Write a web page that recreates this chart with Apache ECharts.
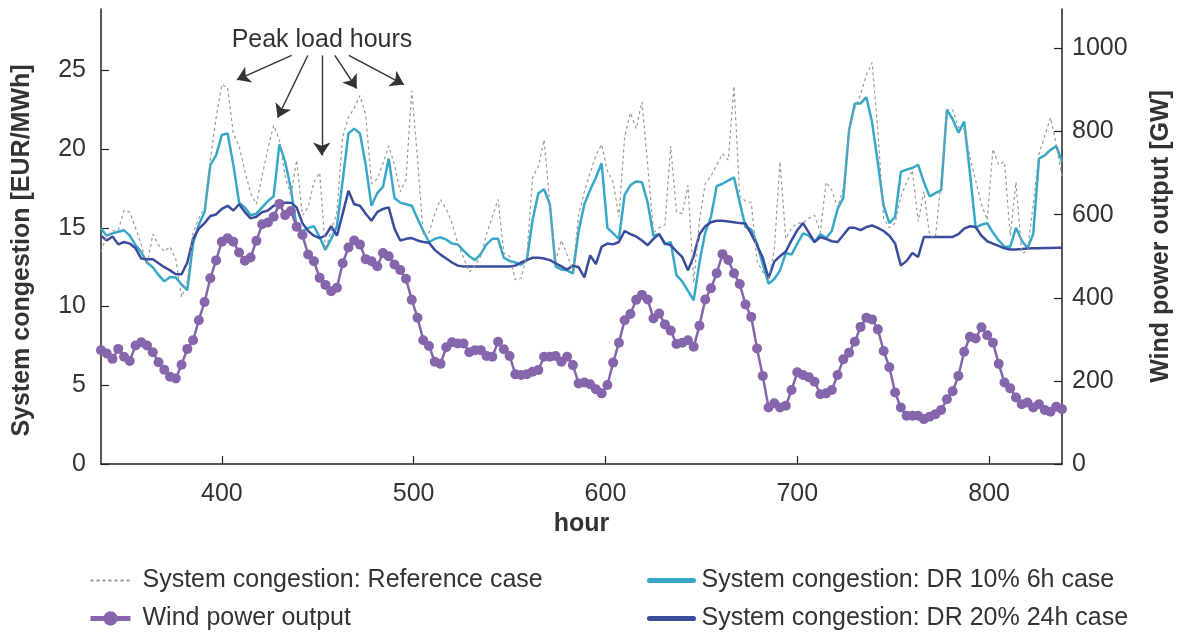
<!DOCTYPE html>
<html>
<head>
<meta charset="utf-8">
<script src="https://cdn.jsdelivr.net/npm/echarts@6.0.0/dist/echarts.min.js"></script>
<style>
  html, body { margin: 0; padding: 0; background: #fff; }
  #congestion-chart { width: 1182px; height: 634px; }
</style>
</head>
<body>
<div id="congestion-chart"></div>
<script>
const hours = [
  337, 340, 343, 346, 349, 352, 355, 358, 361, 364, 367, 370, 373, 376, 379, 382, 385, 388, 391, 394,
  397, 400, 403, 406, 409, 412, 415, 418, 421, 424, 427, 430, 433, 436, 439, 442, 445, 448, 451, 454,
  457, 460, 463, 466, 469, 472, 475, 478, 481, 484, 487, 490, 493, 496, 499, 502, 505, 508, 511, 514,
  517, 520, 523, 526, 529, 532, 535, 538, 541, 544, 547, 550, 553, 556, 559, 562, 565, 568, 571, 574,
  577, 580, 583, 586, 589, 592, 595, 598, 601, 604, 607, 610, 613, 616, 619, 622, 625, 628, 631, 634,
  637, 640, 643, 646, 649, 652, 655, 658, 661, 664, 667, 670, 673, 676, 679, 682, 685, 688, 691, 694,
  697, 700, 703, 706, 709, 712, 715, 718, 721, 724, 727, 730, 733, 736, 739, 742, 745, 748, 751, 754,
  757, 760, 763, 766, 769, 772, 775, 778, 781, 784, 787, 790, 793, 796, 799, 802, 805, 808, 811, 814,
  817, 820, 823, 826, 829, 832, 835, 838
]

// EUR/MWh
const refCongestion = [
  13.5, 14.5, 14.8, 14.85, 16.1, 16.0, 15.0, 13.9, 12.6, 14.6, 13.9, 13.5, 13.8, 13.0, 10.6, 11.6, 14.7, 15.6, 16.3, 19.3, 22.0,
  24.1, 23.9, 21.0, 20.2, 18.6, 17.2, 16.5, 18.3, 20.0, 21.5, 20.6, 18.3, 17.0, 19.3, 15.8, 16.3, 17.9, 18.5, 13.6, 14.8, 16.0,
  20.8, 22.0, 22.6, 23.4, 22.2, 17.8, 18.1, 19.1, 20.2, 19.0, 17.3, 18.1, 23.7, 19.4, 14.6, 14.7, 15.9, 16.8, 16.2, 15.3, 14.0,
  13.1, 12.2, 12.6, 13.2, 14.6, 15.7, 16.8, 13.4, 13.2, 11.7, 11.8, 13.2, 18.2, 18.9, 20.6, 16.5, 12.9, 14.2, 13.3, 12.3, 15.8, 17.3,
  18.5, 19.6, 20.3, 18.6, 17.9, 15.7, 20.8, 22.3, 21.3, 23.0, 19.0, 14.7, 15.0, 15.2, 20.2, 16.0, 15.9, 17.7, 11.5, 15.5, 17.8,
  18.3, 19.0, 19.7, 19.3, 24.0, 17.0, 16.7, 16.6, 12.9, 12.2, 11.7, 13.6, 19.2, 14.3, 15.0, 15.3, 15.3, 15.6, 15.8, 14.7, 17.9,
  17.4, 16.3, 17.5, 21.3, 22.6, 23.5, 24.7, 25.5, 21.2, 15.6, 15.0, 15.3, 17.0, 17.9, 18.65, 15.4, 17.3, 14.5, 14.4, 18.0, 22.5,
  22.5, 21.4, 21.3, 19.5, 18.0, 16.5, 15.5, 20.0, 19.0, 19.2, 14.5, 17.9, 13.4, 13.5, 16.5, 19.7, 20.8, 22.0, 20.3, 18.3
]

const dr10Congestion = [
  14.95, 14.5, 14.65, 14.75, 14.85, 14.5, 13.9, 13.45, 12.8, 12.5, 12.0, 11.6, 11.88, 11.85, 11.4, 11.05, 14.0, 15.2, 16.0, 19.0, 19.6,
  20.9, 21.0, 19.0, 16.6, 16.3, 15.8, 15.9, 16.3, 16.7, 17.0, 20.3, 19.2, 17.5, 15.0, 14.8, 15.0, 15.1, 14.4, 13.6, 14.3, 15.1,
  18.0, 21.0, 21.3, 21.0, 19.0, 16.4, 17.2, 17.6, 19.4, 16.9, 16.6, 16.5, 16.4, 15.6, 14.8, 14.1, 14.3, 14.4, 14.25, 14.0, 13.95,
  13.55, 13.2, 12.95, 13.35, 13.95, 14.3, 14.3, 13.1, 12.9, 12.8, 12.65, 12.95, 15.5, 17.2, 17.45, 16.5, 12.55, 12.35, 12.3, 12.1, 14.8, 16.5,
  17.4, 18.2, 19.1, 15.0, 14.65, 14.3, 17.1, 17.7, 17.95, 17.9, 16.6, 14.5, 14.6, 13.95, 14.1, 12.0, 11.6, 11.0, 10.4, 12.8, 14.7,
  15.7, 17.65, 17.8, 18.0, 18.2, 16.6, 15.06, 14.9, 14.0, 12.7, 11.45, 11.75, 12.3, 13.4, 13.3, 14.0, 14.65, 14.5, 14.1, 14.6, 14.35,
  14.8, 16.2, 16.9, 21.2, 22.9, 22.9, 23.3, 21.7, 19.1, 16.4, 15.3, 15.7, 18.55, 18.7, 18.8, 19.0, 17.9, 17.0, 17.2, 17.4, 22.5,
  21.9, 21.05, 21.75, 18.5, 15.0, 15.2, 15.3, 14.7, 14.2, 13.8, 13.8, 15.0, 14.2, 13.7, 14.6, 19.4, 19.6, 19.95, 20.2, 19.2
]

const dr20Congestion = [
  14.5, 14.2, 14.45, 13.95, 14.1, 14.0, 13.7, 13.05, 13.0, 13.0, 12.75, 12.5, 12.3, 12.05, 12.05, 12.8, 14.3, 14.95, 15.3, 15.75, 15.85,
  16.2, 16.4, 16.1, 16.5, 16.0, 15.6, 15.7, 16.0, 16.1, 16.4, 16.55, 16.6, 16.6, 16.3, 15.3, 14.8, 14.5, 14.35, 14.5, 15.1, 14.5,
  15.9, 17.35, 16.5, 16.4, 15.9, 15.45, 16.0, 16.2, 16.3, 14.95, 14.2, 14.3, 14.35, 14.2, 14.1, 14.05, 13.6, 13.3, 13.05, 12.8, 12.6,
  12.55, 12.55, 12.55, 12.55, 12.55, 12.55, 12.55, 12.55, 12.55, 12.6, 12.8, 12.95, 13.1, 13.1, 13.05, 12.95, 12.75, 12.55, 12.35, 12.6, 12.5, 11.85,
  13.25, 12.7, 13.8, 14.0, 13.95, 14.1, 14.8, 14.6, 14.45, 14.2, 13.9, 14.3, 14.6, 14.0, 13.9, 13.5, 13.15, 12.3, 13.2, 14.6, 15.1,
  15.35, 15.45, 15.45, 15.4, 15.35, 15.3, 15.27, 14.6, 13.9, 13.1, 11.8, 12.85, 13.2, 13.5, 14.2, 14.85, 15.3, 14.7, 14.1, 14.4, 14.3,
  14.15, 14.1, 14.55, 15.0, 15.0, 14.85, 15.05, 15.15, 15.0, 14.8, 14.5, 14.0, 12.6, 12.9, 13.4, 13.15, 14.42, 14.42, 14.42, 14.42, 14.42,
  14.42, 14.6, 14.95, 15.1, 15.05, 14.5, 14.15, 14.0, 13.85, 13.7, 13.62, 13.63, 13.65, 13.68, 13.7, 13.7, 13.72, 13.72, 13.74, 13.74
]

// GW
const windOutput = [
  274, 266, 253, 277, 258, 248, 285, 293, 285, 269, 245, 227, 210, 206, 239, 277, 298, 346, 390, 447, 490,
  535, 543, 535, 509, 489, 497, 537, 577, 581, 595, 626, 599, 609, 571, 551, 504, 488, 448, 431, 416, 424,
  483, 521, 538, 528, 493, 488, 476, 508, 500, 480, 467, 446, 395, 352, 298, 284, 246, 241, 281, 293, 290,
  290, 269, 274, 274, 260, 258, 294, 276, 260, 216, 214, 216, 222, 226, 258, 258, 260, 246, 258, 238, 194, 196,
  192, 180, 170, 190, 244, 292, 346, 361, 395, 407, 396, 350, 362, 336, 321, 289, 292, 298, 282, 333, 396,
  423, 459, 505, 491, 459, 433, 384, 354, 278, 212, 136, 146, 136, 140, 178, 221, 214, 209, 198, 168, 170,
  178, 214, 252, 268, 294, 330, 352, 348, 324, 272, 233, 172, 136, 116, 116, 116, 108, 114, 120, 130, 156,
  175, 212, 270, 306, 302, 329, 310, 292, 241, 196, 182, 160, 144, 148, 136, 144, 130, 126, 138, 132
]

const xTicks = [400, 500, 600, 700, 800]
const leftTicks = [0, 5, 10, 15, 20, 25]
const rightTicks = [0, 200, 400, 600, 800, 1000]

// "Peak load hours" callout, [hour, EUR/MWh] from -> to
const peakArrows = [
  [[436.4, 25.95], [407.8, 24.4]],
  [[444.8, 25.95], [429.1, 22.0]],
  [[452.1, 25.95], [452.1, 19.6]],
  [[458.9, 25.95], [470.3, 23.85]],
  [[466.2, 25.95], [494.9, 24.1]]
]
const peakLabelAt = [452.2, 26.9]

const FONT = 'Liberation Sans, Arial, sans-serif'
const TXT = '#333'
const FS = 25

function pairs(ys) {
  return hours.map((h, i) => [h, ys[i]])
}

function valueAxis(ticks, extra) {
  return Object.assign({
    type: 'value',
    min: 0,
    axisLine: { show: true, lineStyle: { color: '#222', width: 1.5 } },
    axisTick: { show: true, inside: true, length: 8, customValues: ticks, lineStyle: { color: '#222', width: 1.2 } },
    splitLine: { show: false },
    nameLocation: 'middle'
  }, extra)
}

const chart = echarts.init(document.getElementById('congestion-chart'))

chart.setOption({
  animation: false,
  backgroundColor: '#fff',
  grid: { left: 101, right: 120, top: 9, bottom: 170 },
  legend: [
    {
      left: 88, top: 568, padding: 0, orient: 'vertical', itemWidth: 40, itemHeight: 18, itemGap: 13,
      textStyle: { fontSize: FS, color: TXT, fontFamily: FONT, padding: [0, 0, 0, 7] },
      data: [
        { name: 'System congestion: Reference case', itemStyle: { opacity: 0 } },
        { name: 'Wind power output', lineStyle: { width: 5 } }
      ]
    },
    {
      left: 647, top: 568, padding: 0, orient: 'vertical', itemWidth: 44, itemHeight: 16, itemGap: 13,
      textStyle: { fontSize: FS, color: TXT, fontFamily: FONT, padding: [0, 0, 0, 3] },
      data: [
        { name: 'System congestion: DR 10% 6h case', lineStyle: { width: 5, cap: 'round' }, itemStyle: { opacity: 0 } },
        { name: 'System congestion: DR 20% 24h case', lineStyle: { width: 5, cap: 'round' }, itemStyle: { opacity: 0 } }
      ]
    }
  ],
  xAxis: {
    type: 'value',
    min: 337,
    max: 838,
    name: 'hour',
    nameLocation: 'middle',
    nameGap: 45,
    nameTextStyle: { fontSize: FS, fontWeight: 'bold', color: TXT, fontFamily: FONT },
    axisLine: { show: true, lineStyle: { color: '#222', width: 1.5 } },
    axisTick: { show: true, inside: true, length: 8, customValues: xTicks, lineStyle: { color: '#222', width: 1.2 } },
    axisLabel: { customValues: xTicks, fontSize: FS, color: TXT, fontFamily: FONT, margin: 18 },
    splitLine: { show: false }
  },
  yAxis: [
    valueAxis(leftTicks, {
      position: 'left', max: 28.9, name: 'System congestion [EUR/MWh]', nameGap: 66,
      nameTextStyle: { fontSize: FS, fontWeight: 'bold', color: TXT, fontFamily: FONT, padding: [0, 28, 0, 0] },
      axisLabel: { customValues: leftTicks, fontSize: FS, color: TXT, fontFamily: FONT, margin: 15 }
    }),
    valueAxis(rightTicks, {
      position: 'right', max: 1095, name: 'Wind power output [GW]', nameGap: 87,
      nameTextStyle: { fontSize: FS, fontWeight: 'bold', color: TXT, fontFamily: FONT },
      axisLabel: { customValues: rightTicks, fontSize: FS, color: TXT, fontFamily: FONT, margin: 10, formatter: v => String(v) }
    })
  ],
  series: [
    {
      name: 'System congestion: DR 10% 6h case',
      type: 'line',
      yAxisIndex: 0,
      symbol: 'none',
      color: '#38a7c7',
      lineStyle: { width: 2.5, color: '#38a7c7' },
      emphasis: { disabled: true },
      data: pairs(dr10Congestion)
    },
    {
      name: 'System congestion: DR 20% 24h case',
      type: 'line',
      yAxisIndex: 0,
      symbol: 'none',
      color: '#3a4d9d',
      lineStyle: { width: 2.5, color: '#3a4d9d' },
      emphasis: { disabled: true },
      data: pairs(dr20Congestion)
    },
    {
      name: 'System congestion: Reference case',
      type: 'line',
      yAxisIndex: 0,
      symbol: 'none',
      color: '#999',
      lineStyle: { width: 1.2, color: '#999', type: [3, 3] },
      emphasis: { disabled: true },
      data: pairs(refCongestion),
      markLine: {
        silent: true,
        symbol: ['none', 'arrow'],
        symbolSize: 13,
        label: { show: false },
        lineStyle: { type: 'solid', color: '#333', width: 1.4 },
        data: peakArrows.map(a => [{ coord: a[0] }, { coord: a[1] }])
      },
      markPoint: {
        silent: true,
        symbol: 'circle',
        symbolSize: 0,
        label: { show: true, formatter: 'Peak load hours', fontSize: FS, color: TXT, fontFamily: FONT },
        data: [{ coord: peakLabelAt }]
      }
    },
    {
      name: 'Wind power output',
      type: 'line',
      yAxisIndex: 1,
      symbol: 'circle',
      symbolSize: 10,
      showSymbol: true,
      color: '#8565ab',
      itemStyle: { color: '#8565ab' },
      lineStyle: { width: 2.5, color: '#8565ab' },
      emphasis: { disabled: true },
      data: pairs(windOutput)
    }
  ]
})
</script>
</body>
</html>
